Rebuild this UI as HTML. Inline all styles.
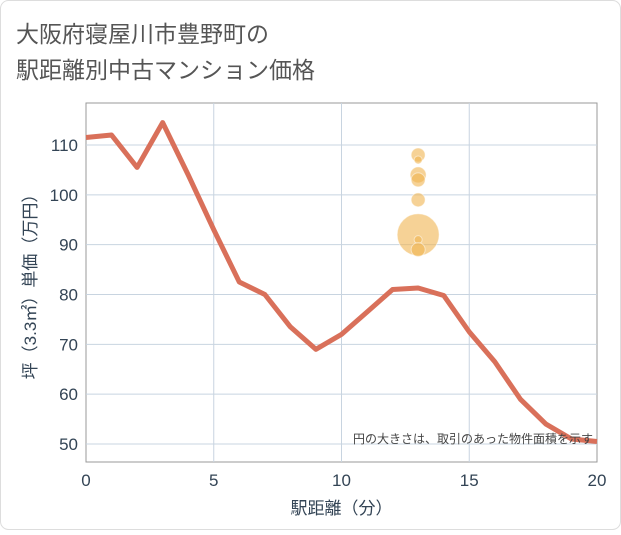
<!DOCTYPE html>
<html><head><meta charset="utf-8"><style>
body{margin:0;background:#fff;font-family:"Liberation Sans","Noto Sans CJK JP",sans-serif;}
#c{position:relative;width:621px;height:530px;}
</style></head><body>
<div id="c">
<svg id="s" width="621" height="530">
<rect x="0.5" y="0.5" width="620" height="529" rx="8" fill="#fff" stroke="#ddd"/>
<text x="16" y="42" font-size="23" fill="#555" font-family="Liberation Sans, Noto Sans CJK JP, sans-serif">大阪府寝屋川市豊野町の</text>
<text x="16" y="78" font-size="23" fill="#555" font-family="Liberation Sans, Noto Sans CJK JP, sans-serif">駅距離別中古マンション価格</text>
<g id="grid"></g><g id="marks"></g><g id="axes"></g>
</svg></div>
<script>
const xTicks=[0,5,10,15,20];
const yTicks=[50,60,70,80,90,100,110];
const lineX=[0,1,2,3,4,5,6,7,8,9,10,11,12,13,14,15,16,17,18,19,20];
const lineY=[111.5,112,105.5,114.5,104,93,82.5,80,73.5,69,72,76.5,81,81.3,79.8,72.5,66.5,59,54,51,50.5];
const bubX=[13,13,13,13,13,13,13,13];
const bubY=[108,107,104,103,99,92,91,89];
const bubR=[7,4,8,7,7,21,4,7];
const L=86,R=597,T=103,B=462;
const X=v=>L+(v-0)/20*(R-L);
const Y=v=>145+(110-v)*(444-145)/60;
const ns="http://www.w3.org/2000/svg";
function mk(t,a,p){const e=document.createElementNS(ns,t);for(const k in a)e.setAttribute(k,a[k]);document.getElementById(p).appendChild(e);return e;}
let r=mk('rect',{x:L,y:T,width:R-L,height:B-T,fill:'#fff',stroke:'#999'},'grid');


yTicks.forEach(v=>{let l=mk('line',{x1:L,x2:R,y1:Y(v),y2:Y(v),stroke:'#c8d4e0'},'grid');


let t=mk('text',{x:L-8,y:Y(v)+6,'text-anchor':'end','font-size':17,fill:'#345'},'axes');t.textContent=v;

});
xTicks.forEach(v=>{if(v>0&&v<20){let l=mk('line',{x1:X(v),x2:X(v),y1:T,y2:B,stroke:'#c8d4e0'},'grid');

}
let t=mk('text',{x:X(v),y:486,'text-anchor':'middle','font-size':17,fill:'#345'},'axes');t.textContent=v;

});
bubX.forEach((v,i)=>{let c=mk('circle',{cx:X(v),cy:Y(bubY[i]),r:bubR[i],fill:'#f0b450','fill-opacity':0.6,stroke:'#fff','stroke-opacity':0.5},'marks');

});
let p=mk('polyline',{points:lineX.map((v,i)=>X(v)+','+Y(lineY[i])).join(' '),fill:'none',stroke:'#d9705a','stroke-width':5,'stroke-linejoin':'round'},'marks');


let n=mk('text',{x:593,y:443,'text-anchor':'end','font-size':12,fill:'#444'},'axes');n.textContent='円の大きさは、取引のあった物件面積を示す';


let xt=mk('text',{x:(L+R)/2,y:514,'text-anchor':'middle','font-size':17,fill:'#345'},'axes');xt.textContent='駅距離（分）';


let yt=mk('text',{x:0,y:0,'text-anchor':'middle','font-size':17,fill:'#345',transform:'translate(36,'+((T+B)/2)+') rotate(-90)'},'axes');yt.textContent='坪（3.3㎡）単価（万円）';


</script></body></html>
